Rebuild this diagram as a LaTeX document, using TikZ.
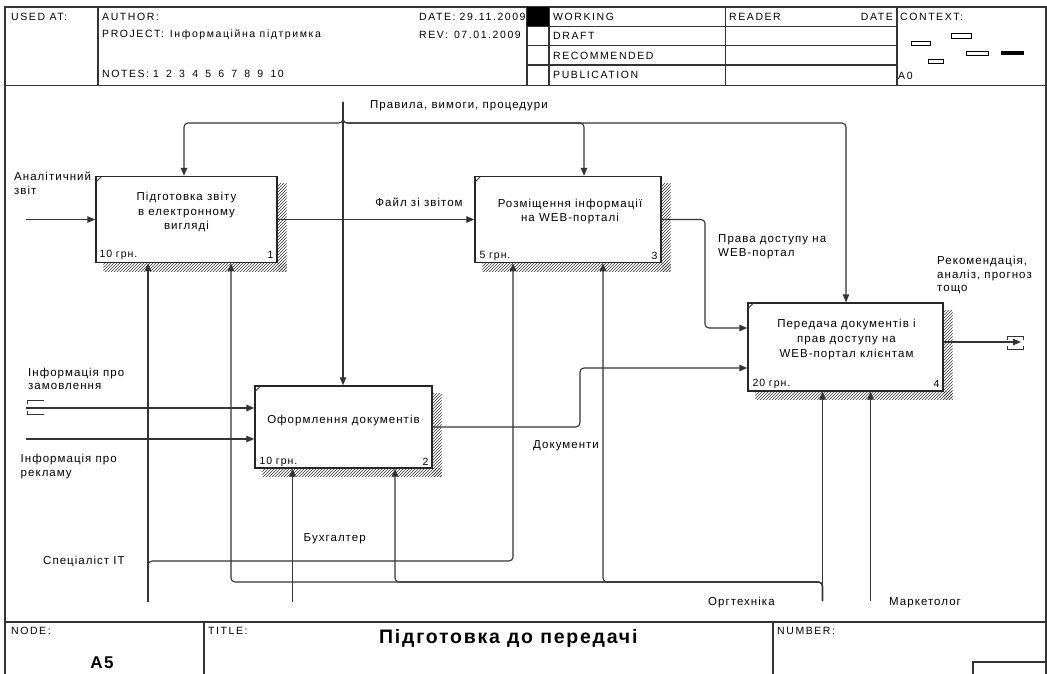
\documentclass[tikz,border=0pt]{standalone}
\usepackage{fontspec}
\setmainfont{Liberation Sans}
\newfontfamily\dfont[LetterSpace=9]{Liberation Sans}
\newfontfamily\hfont[LetterSpace=15]{Liberation Sans}
\newfontfamily\tfont[LetterSpace=9]{Liberation Sans}
\usetikzlibrary{arrows.meta,patterns,calc}
\pgfdeclarelayer{background}
\pgfsetlayers{background,main}
\begin{document}
\begin{tikzpicture}[x=1pt,y=-1pt,
  frame/.style={line width=1.1pt, draw=black!80},
  fn/.style={font={\dfont\fontsize{11.5}{14.7}\selectfont}, inner sep=0pt},
  fc/.style={font={\dfont\fontsize{10.5}{13}\selectfont}, inner sep=0pt},
  fl/.style={font={\dfont\fontsize{11.5}{13.5}\selectfont}, inner sep=0pt, anchor=west, align=left},
  hd/.style={font={\hfont\fontsize{10.5}{12}\selectfont}, inner sep=0pt, anchor=west},
  box/.style={draw=black!85, line width=1.4pt, fill=white, inner sep=0pt, rectangle},
  arr/.style={line width=1.1pt, draw=black!80, -{Triangle[length=8pt,width=6.5pt]}, rounded corners=4pt},
  tun/.style={line width=0.9pt, draw=black!80},
  shade/.style={pattern=north east lines, pattern color=black!80},
  mini/.style={line width=0.8pt, draw=black, fill=white},
]
\useasboundingbox (0,0) rectangle (1047,674);

% ---------- frame ----------
\draw[frame] (5,674) -- (5,7) -- (1046,7) -- (1046,674);
\draw[frame] (5,85.5) -- (1046,85.5);
\draw[frame] (5,622) -- (1046,622);
% header grid
\draw[frame] (98,7) -- (98,85.5);
\draw[frame] (527,7) -- (527,85.5);
\draw[frame] (549,7) -- (549,85.5);
\draw[frame] (725.5,7) -- (725.5,85.5);
\draw[frame] (897,7) -- (897,85.5);
\draw[frame] (527,26.5) -- (897,26.5);
\draw[frame] (527,45.7) -- (897,45.7);
\draw[frame] (527,65) -- (897,65);
% footer grid
\draw[frame] (204,622) -- (204,674);
\draw[frame] (773,622) -- (773,674);
\draw[frame] (973,674) -- (973,662) -- (1046,662);

% ---------- header texts ----------
\node[hd] (usedat) at (11,16.5) {USED AT:};
\begin{scope}
\clip (98,7) rectangle (527,86);
\node[hd] (author) at (102,16.5) {AUTHOR:};
\node[hd] (date) at (419,16.5) {DATE:\hspace{4pt}29.11.2009};
\node[hd] (proj) at (102,34.5) {PROJECT:\hspace{6pt}Інформаційна підтримка};
\node[hd] (rev) at (419,34.5) {REV:\hspace{6pt}07.01.2009};
\node[hd] (notes) at (102,74) {NOTES:\hspace{4pt}1\hspace{7.2pt}2\hspace{7.2pt}3\hspace{7.2pt}4\hspace{7.2pt}5\hspace{7.2pt}6\hspace{7.2pt}7\hspace{7.2pt}8\hspace{7.2pt}9\hspace{7.2pt}10};
\end{scope}
\fill[black] (527,7) rectangle (549,26.5);
\node[hd] (wk) at (553,16.5) {WORKING};
\node[hd] (dr) at (553,36) {DRAFT};
\node[hd] (rcm) at (553,55.5) {RECOMMENDED};
\node[hd] (pub) at (553,75) {PUBLICATION};
\node[hd] (rdr) at (729,16.5) {READER};
\node[hd, anchor=east] (rdt) at (893,16.5) {DATE};
\node[hd] (ctx) at (900,16.5) {CONTEXT:};
\node[hd] (a0) at (898,76) {A0};
% context minis
\draw[mini] (911,41.5) rectangle (930,45.5);
\draw[mini] (951,33.5) rectangle (971,38);
\draw[mini] (966,51) rectangle (988,55);
\draw[mini] (928,59) rectangle (943.5,63);
\fill[black] (1001,51) rectangle (1024,55);

% ---------- footer texts ----------
\node[hd] (nodel) at (11,631) {NODE:};
\node[hd] (titlel) at (208,631) {TITLE:};
\node[hd] (numl) at (777,631) {NUMBER:};
\node[font={\tfont\bfseries\fontsize{17}{20}\selectfont}, inner sep=0pt] (a5) at (102,663) {A5};
\node[font={\tfont\bfseries\fontsize{19.5}{24}\selectfont}, inner sep=0pt, anchor=base west] (ttl) at (379,643) {Підготовка до передачі};

% ---------- boxes ----------
\node[box, minimum width=181pt, minimum height=86pt] (b1) at (186.5,219.5) {};
\node[box, minimum width=186pt, minimum height=86pt] (b3) at (568,219.5) {};
\node[box, minimum width=177pt, minimum height=82pt] (b2) at (343.5,427) {};
\node[box, minimum width=195pt, minimum height=88pt] (b4) at (845.5,347) {};

\begin{pgfonlayer}{background}
\foreach \b in {b1,b2,b3,b4}{
  \fill[shade] ($(\b.north east)+(0,8)$) rectangle ($(\b.south east)+(9,8)$);
  \fill[shade] ($(\b.south west)+(8,0)$) rectangle ($(\b.south east)+(9,8)$);
}
\end{pgfonlayer}
\foreach \b in {b1,b2,b3,b4}{
  \draw[tun] ($(\b.north west)+(1,6)$) -- ($(\b.north west)+(6,1)$);
}

\node[fn, align=center] (b1t) at ($(b1.center)+(0,-7.5)$) {Підготовка звіту\\в електронному\\вигляді};
\node[fn, align=center] (b3t) at ($(b3.center)+(2,-8)$) {Розміщення інформації\\на WEB-порталі};
\node[fn, align=center] (b2t) at ($(b2.center)+(0,-6)$) {Оформлення документів};
\node[fn, align=center] (b4t) at ($(b4.center)+(1,-7.5)$) {Передача документів і\\прав доступу на\\WEB-портал клієнтам};
\node[fc, anchor=west] (b1c) at ($(b1.south west)+(4,-8)$) {10 грн.};
\node[fc, anchor=east] (b1n) at ($(b1.south east)+(-4,-8)$) {1};
\node[fc, anchor=west] (b3c) at ($(b3.south west)+(5,-7.5)$) {5 грн.};
\node[fc, anchor=east] (b3n) at ($(b3.south east)+(-4,-7.5)$) {3};
\node[fc, anchor=west] (b2c) at ($(b2.south west)+(5,-7)$) {10 грн.};
\node[fc, anchor=east] (b2n) at ($(b2.south east)+(-4,-7)$) {2};
\node[fc, anchor=west] (b4c) at ($(b4.south west)+(5,-8)$) {20 грн.};
\node[fc, anchor=east] (b4n) at ($(b4.south east)+(-4,-8)$) {4};

% ---------- coordinates ----------
\coordinate (c0) at (343,102);
\coordinate (kB) at (0,123);
\coordinate (kx1) at (184,0);
\coordinate (kx3) at (584,0);
\coordinate (kx4) at (846,0);
\coordinate (iA) at (26,0);
\coordinate (x705) at (705,0);
\coordinate (y328) at (0,328);
\coordinate (x580) at (580,0);
\coordinate (y368) at (0,368);
\coordinate (y342) at (0,342);
\coordinate (oR) at (1021,0);
\coordinate (y408) at (0,408);
\coordinate (y439) at (0,439);
\coordinate (sIT) at (148,602);
\coordinate (x513) at (513,0);
\coordinate (y561) at (0,561);
\coordinate (sBuh) at (292.5,602);
\coordinate (sOrg) at (822.5,601);
\coordinate (y582) at (0,582);
\coordinate (x603) at (603,0);
\coordinate (x395) at (395,0);
\coordinate (x231) at (231,0);
\coordinate (sMark) at (870.5,601);

% ---------- connectors ----------
% controls
\draw[arr] (c0) -- (c0 |- b2.north);
\draw[arr] (c0) |- (kx1 |- kB) -- (kx1 |- b1.north);
\draw[arr] (c0) |- (kx3 |- kB) -- (kx3 |- b3.north);
\draw[arr] (c0) |- (kx4 |- kB) -- (kx4 |- b4.north);
% inputs / outputs
\draw[arr] (iA |- b1.west) -- (b1.west);
\draw[arr] (b1.east) -- (b3.west);
\draw[arr] (b3.east) -| (x705 |- y328) -- (b4.west |- y328);
\draw[arr] (b2.east) -| (x580 |- y368) -- (b4.west |- y368);
\draw[arr] (b4.east |- y342) -- (oR |- y342);
\draw[arr] (iA |- y408) -- (b2.west |- y408);
\draw[arr] (iA |- y439) -- (b2.west |- y439);
% mechanisms
\draw[arr] (sIT) -- (sIT |- b1.south);
\draw[arr] (sIT) |- (x513 |- y561) -- (x513 |- b3.south);
\draw[arr] (sBuh) -- (sBuh |- b2.south);
\draw[arr] (sOrg) -- (sOrg |- b4.south);
\draw[arr] (sOrg) |- (x603 |- y582) -- (x603 |- b3.south);
\draw[arr] (sOrg) |- (x395 |- y582) -- (x395 |- b2.south);
\draw[arr] (sOrg) |- (x231 |- y582) -- (x231 |- b1.south);
\draw[arr] (sMark) -- (sMark |- b4.south);

% tunnels
\draw[tun] (43.5,400.7) -- (27,400.7) -- (27,404);
\draw[tun] (43.5,414.5) -- (27,414.5) -- (27,411);
\draw[tun] (1007,339.5) -- (1007,336) -- (1023,336) -- (1023,339.5);
\draw[tun] (1007,345.5) -- (1007,349) -- (1023,349) -- (1023,345.5);

% ---------- labels ----------
\node[fl] (lA) at (14,183.5) {Аналітичний\\звіт};
\node[fn] (lF) at (419,202) {Файл зі звітом};
\node[fn, anchor=west] (lP) at (370,106) {Правила, вимоги, процедури};
\node[fl] (lPr) at (718,246.5) {Права доступу на\\WEB-портал};
\node[fl] (lR) at (937,275) {Рекомендація,\\аналіз, прогноз\\тощо};
\node[fl] (lZ) at (28,379) {Інформація про\\замовлення};
\node[fl] (lRe) at (20.5,466.5) {Інформація про\\рекламу};
\node[fn, anchor=west] (lD) at (533,446) {Документи};
\node[fn, anchor=west] (lB) at (303.5,539) {Бухгалтер};
\node[fn, anchor=west] (lS) at (43,561) {Спеціаліст IT};
\node[fn, anchor=west] (lO) at (708,603) {Оргтехніка};
\node[fn, anchor=west] (lM) at (889,603) {Маркетолог};
\end{tikzpicture}
\end{document}
